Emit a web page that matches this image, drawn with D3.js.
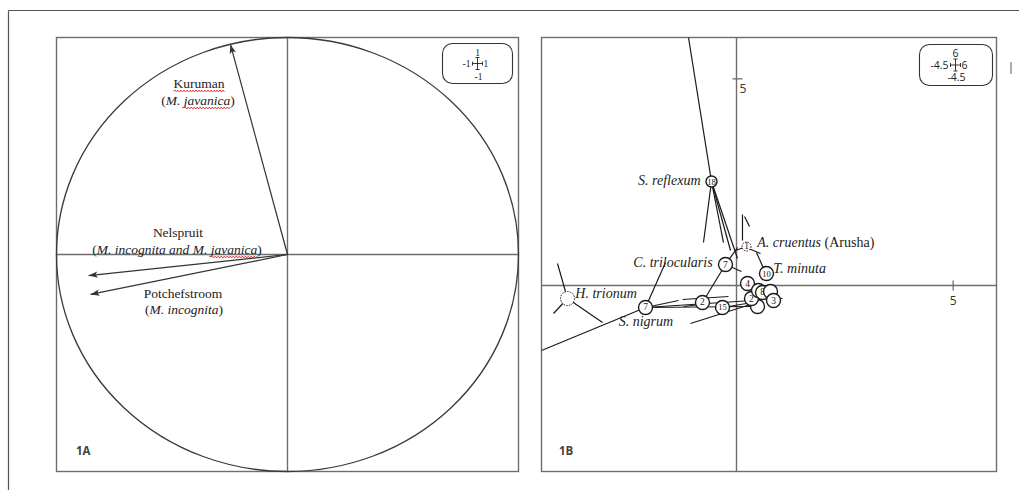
<!DOCTYPE html>
<html><head><meta charset="utf-8">
<script src="https://cdn.jsdelivr.net/npm/d3@7"></script>
<style>body{margin:0;background:#fff}svg{display:block}</style>
</head><body>
<svg id="chart" width="1019" height="490"></svg>
<script>
// ---------- Panel 1A: vectors (unit circle biplot) ----------
const limitsA = [-1, 1];
const vectorNames = ["Kuruman", "Nelspruit", "Potchefstroom"];
const vectorX = [-0.247, -0.861, -0.853];
const vectorY = [0.968, -0.097, -0.184];
const legendTicksA = ["1", "-1", "1", "-1"];

// ---------- Panel 1B: group centroids and their spokes ----------
const limitsB = [-4.5, 6];
const tickValuesB = [5];
const legendTicksB = ["6", "-4.5", "6", "-4.5"];
const groupTags = ["", "7", "2", "15", "7", "18", "1", "10", "4", "", "2", "6", "8", "", "3"];
const groupX = [-3.900, -2.100, -0.785, -0.323, -0.254, -0.577, 0.231, 0.692, 0.254, 0.485, 0.346, 0.508, 0.600, 0.785, 0.854];
const groupY = [-0.315, -0.532, -0.411, -0.532, 0.508, 2.516, 0.944, 0.290, 0.048, -0.508, -0.315, -0.121, -0.169, -0.145, -0.363];
const groupDotted = [true, false, false, false, false, false, true, false, false, false, false, false, false, false, false];
const segments = [
  [-1.108, 6.0, -0.577, 2.516],
  [-0.577, 2.516, -0.762, 1.040],
  [-0.577, 2.516, -0.300, 1.040],
  [-0.577, 2.516, -0.138, 0.847],
  [-0.577, 2.516, 0.023, 0.653],
  [-0.254, 0.508, -0.785, -0.411],
  [-0.254, 0.508, 0.115, 0.339],
  [-0.254, 0.508, 0.023, 0.919],
  [0.138, 1.718, 0.138, 1.089],
  [0.185, 1.669, 0.300, 1.427],
  [0.231, 0.944, -0.023, 0.847],
  [0.277, 0.895, 0.554, 0.774],
  [0.462, 0.798, 0.646, 0.363],
  [-4.5, -1.573, -2.100, -0.532],
  [-2.100, -0.532, -1.638, 0.556],
  [-2.100, -0.532, -1.338, -0.363],
  [-2.100, -0.532, 0.369, -0.363],
  [-2.100, -0.532, 0.323, -0.508],
  [-1.062, -0.919, 0.392, -0.435],
  [-1.246, -0.339, -0.185, -0.266],
  [-1.223, -0.508, -0.831, -0.460],
  [-3.900, -0.315, -4.131, 0.532],
  [-3.900, -0.315, -4.223, -0.677],
  [-3.900, -0.315, -3.092, -0.895],
  [-0.323, -0.532, 0.369, -0.411],
  [0.669, -0.242, 1.062, -0.315]
];
const speciesNames = ["S. reflexum", "C. trilocularis", "A. cruentus", "T. minuta", "H. trionum", "S. nigrum"];
const speciesX = [-0.83, -0.55, 0.48, 0.85, -3.72, -2.72];
const speciesY = [2.44, 0.44, 0.92, 0.31, -0.31, -0.99];
const speciesAnchor = ["end", "end", "start", "start", "start", "start"];
const speciesSuffix = ["", "", " (Arusha)", "", "", ""];

// ---------- drawing ----------
const svg = d3.select("#chart");
const serif = "'Liberation Serif','DejaVu Serif',serif";
const sans = "'Open Sans','Liberation Sans',sans-serif";
const frameCol = "#6e6e6e";

// outer frame
svg.append("line").attr("x1", 8.5).attr("y1", 10.5).attr("x2", 1019).attr("y2", 10.5).attr("stroke", "#555").attr("stroke-width", 1.2);
svg.append("line").attr("x1", 8.5).attr("y1", 10.5).attr("x2", 8.5).attr("y2", 490).attr("stroke", "#555").attr("stroke-width", 1.2);
svg.append("line").attr("x1", 1011).attr("y1", 62).attr("x2", 1011).attr("y2", 74).attr("stroke", "#777").attr("stroke-width", 1.2);

const defs = svg.append("defs");
defs.append("marker").attr("id", "ah").attr("viewBox", "-10 -5 12 10")
  .attr("refX", 0).attr("refY", 0).attr("markerWidth", 12).attr("markerHeight", 10)
  .attr("markerUnits", "userSpaceOnUse").attr("orient", "auto")
  .append("path").attr("d", "M0,0 L-9,-3.2 L-7,0 L-9,3.2 Z").attr("fill", "#333");

function squiggle(g, tspanNode, yb) {
  const n = tspanNode.getNumberOfChars();
  const x0 = tspanNode.getStartPositionOfChar(0).x;
  const x1 = tspanNode.getEndPositionOfChar(n - 1).x;
  let d = `M${x0},${yb}`;
  let up = true;
  for (let x = x0 + 1.5; x <= x1; x += 1.5) { d += ` L${x},${yb + (up ? -1 : 1)}`; up = !up; }
  g.append("path").attr("d", d).attr("fill", "none").attr("stroke", "#e02020").attr("stroke-width", 0.8);
}

// ===== Panel 1A =====
const A = {l: 56.5, r: 518.5, t: 37.5, b: 471.5};
const xA = d3.scaleLinear().domain(limitsA).range([A.l, A.r]);
const yA = d3.scaleLinear().domain(limitsA).range([A.b, A.t]);
const gA = svg.append("g");
gA.append("rect").attr("x", A.l).attr("y", A.t).attr("width", A.r - A.l).attr("height", A.b - A.t)
  .attr("fill", "none").attr("stroke", frameCol).attr("stroke-width", 1.4);
gA.append("line").attr("x1", xA(0)).attr("x2", xA(0)).attr("y1", A.t).attr("y2", A.b).attr("stroke", frameCol).attr("stroke-width", 1.4);
gA.append("line").attr("x1", A.l).attr("x2", A.r).attr("y1", yA(0)).attr("y2", yA(0)).attr("stroke", frameCol).attr("stroke-width", 1.4);
gA.append("ellipse").attr("cx", xA(0)).attr("cy", yA(0))
  .attr("rx", xA(1) - xA(0)).attr("ry", yA(0) - yA(1))
  .attr("fill", "none").attr("stroke", "#3a3a3a").attr("stroke-width", 1.3);
vectorNames.forEach((n, i) => {
  gA.append("line").attr("x1", xA(0)).attr("y1", yA(0)).attr("x2", xA(vectorX[i])).attr("y2", yA(vectorY[i]))
    .attr("stroke", "#333").attr("stroke-width", 1.2).attr("marker-end", "url(#ah)");
});

function labelA(cx, yb, parts, squig) {
  const t = gA.append("text").attr("x", cx).attr("y", yb).attr("text-anchor", "middle")
    .attr("font-family", serif).attr("font-size", 13.5).attr("fill", "#222");
  const nodes = [];
  parts.forEach(p => {
    const s = t.append("tspan").text(p[0]);
    if (p[1]) s.attr("font-style", "italic");
    nodes.push(s.node());
  });
  squig.forEach(k => squiggle(gA, nodes[k], yb + 3));
}
labelA(199, 88, [[vectorNames[0], false]], [0]);
labelA(198, 105, [["(", false], ["M. ", true], ["javanica", true], [")", false]], [2]);
labelA(178, 237, [[vectorNames[1], false]], []);
labelA(177, 254, [["(", false], ["M. incognita and M. ", true], ["javanica", true], [")", false]], [2]);
labelA(183, 298, [[vectorNames[2], false]], []);
labelA(184, 314, [["(", false], ["M. incognita", true], [")", false]], []);

gA.append("text").attr("x", 76).attr("y", 455).attr("font-family", sans).attr("font-weight", "bold")
  .attr("font-size", 11.5).attr("fill", "#444").text("1A");

function scaleBox(g, x, y, w, h, cx, labels, font, fs) {
  g.append("rect").attr("x", x).attr("y", y).attr("width", w).attr("height", h).attr("rx", 10)
    .attr("fill", "#fff").attr("stroke", "#333").attr("stroke-width", 1.1);
  const cy = y + h / 2;
  const c = g.append("g").attr("stroke", "#222").attr("stroke-width", 0.9);
  c.append("line").attr("x1", cx - 5).attr("x2", cx + 5).attr("y1", cy).attr("y2", cy);
  c.append("line").attr("x1", cx).attr("x2", cx).attr("y1", cy - 6).attr("y2", cy + 6);
  c.append("line").attr("x1", cx - 5).attr("x2", cx - 5).attr("y1", cy - 2).attr("y2", cy + 2);
  c.append("line").attr("x1", cx + 5).attr("x2", cx + 5).attr("y1", cy - 2).attr("y2", cy + 2);
  c.append("line").attr("x1", cx - 2).attr("x2", cx + 2).attr("y1", cy - 6).attr("y2", cy - 6);
  c.append("line").attr("x1", cx - 2).attr("x2", cx + 2).attr("y1", cy + 6).attr("y2", cy + 6);
  const T = (tx, ty, s, anchor) => g.append("text").attr("x", tx).attr("y", ty).attr("text-anchor", anchor)
    .attr("font-family", font).attr("font-size", fs).attr("fill", "#222").text(s);
  T(cx, cy - 8, labels[0], "middle");
  T(cx - 7, cy + 3.5, labels[1], "end");
  T(cx + 6, cy + 3.5, labels[2], "start");
  T(cx + 1, cy + 16, labels[3], "middle");
}
scaleBox(gA, 442.5, 43.5, 70, 40, 477.5, legendTicksA, serif, 9.5);

// ===== Panel 1B =====
const B = {l: 541.5, r: 996.5, t: 37.5, b: 471.5};
const xB = d3.scaleLinear().domain(limitsB).range([B.l, B.r]);
const yB = d3.scaleLinear().domain(limitsB).range([B.b, B.t]);
const gB = svg.append("g");
gB.append("rect").attr("x", B.l).attr("y", B.t).attr("width", B.r - B.l).attr("height", B.b - B.t)
  .attr("fill", "none").attr("stroke", frameCol).attr("stroke-width", 1.4);
gB.append("line").attr("x1", xB(0)).attr("x2", xB(0)).attr("y1", B.t).attr("y2", B.b).attr("stroke", frameCol).attr("stroke-width", 1.4);
gB.append("line").attr("x1", B.l).attr("x2", B.r).attr("y1", yB(0)).attr("y2", yB(0)).attr("stroke", frameCol).attr("stroke-width", 1.4);
tickValuesB.forEach(v => {
  gB.append("line").attr("x1", xB(v)).attr("x2", xB(v)).attr("y1", yB(0) - 5).attr("y2", yB(0) + 5).attr("stroke", frameCol).attr("stroke-width", 1.3);
  gB.append("text").attr("x", xB(v)).attr("y", yB(0) + 19).attr("text-anchor", "middle")
    .attr("font-family", sans).attr("font-size", 12).attr("fill", "#333").text(v);
  gB.append("line").attr("y1", yB(v)).attr("y2", yB(v)).attr("x1", xB(0) - 4).attr("x2", xB(0) + 6).attr("stroke", frameCol).attr("stroke-width", 1.3);
  gB.append("text").attr("x", xB(0) + 3).attr("y", yB(v) + 14).attr("text-anchor", "start")
    .attr("font-family", sans).attr("font-size", 12).attr("fill", "#333").text(v);
});
defs.append("clipPath").attr("id", "clipB").append("rect")
  .attr("x", B.l).attr("y", B.t).attr("width", B.r - B.l).attr("height", B.b - B.t);
const plotB = gB.append("g").attr("clip-path", "url(#clipB)");
plotB.selectAll("line.seg").data(segments).join("line").attr("class", "seg")
  .attr("x1", d => xB(d[0])).attr("y1", d => yB(d[1])).attr("x2", d => xB(d[2])).attr("y2", d => yB(d[3]))
  .attr("stroke", "#1a1a1a").attr("stroke-width", 1.2);
groupTags.forEach((tag, i) => {
  const r = tag === "15" ? 7 : tag === "18" ? 5.5 : groupDotted[i] ? (tag ? 4.5 : 7) : 7;
  plotB.append("circle").attr("cx", xB(groupX[i])).attr("cy", yB(groupY[i])).attr("r", r)
    .attr("fill", "#fff").attr("stroke", "#1a1a1a").attr("stroke-width", groupDotted[i] ? 1 : 1.4)
    .attr("stroke-dasharray", groupDotted[i] ? "1.5,1.2" : null);
  if (tag) plotB.append("text").attr("x", xB(groupX[i])).attr("y", yB(groupY[i]) + 3)
    .attr("text-anchor", "middle").attr("font-family", serif).attr("font-size", tag.length > 1 ? 8.5 : 9.5)
    .attr("fill", "#222").text(tag);
});
speciesNames.forEach((n, i) => {
  const t = gB.append("text").attr("x", xB(speciesX[i])).attr("y", yB(speciesY[i]))
    .attr("text-anchor", speciesAnchor[i]).attr("font-family", serif).attr("font-size", 14).attr("fill", "#222");
  t.append("tspan").attr("font-style", "italic").text(n);
  if (speciesSuffix[i]) t.append("tspan").text(speciesSuffix[i]);
});
gB.append("text").attr("x", 559).attr("y", 455).attr("font-family", sans).attr("font-weight", "bold")
  .attr("font-size", 11.5).attr("fill", "#444").text("1B");
scaleBox(gB, 919.5, 44.5, 73, 41, 955.5, legendTicksB, sans, 10.5);
</script>
</body></html>
